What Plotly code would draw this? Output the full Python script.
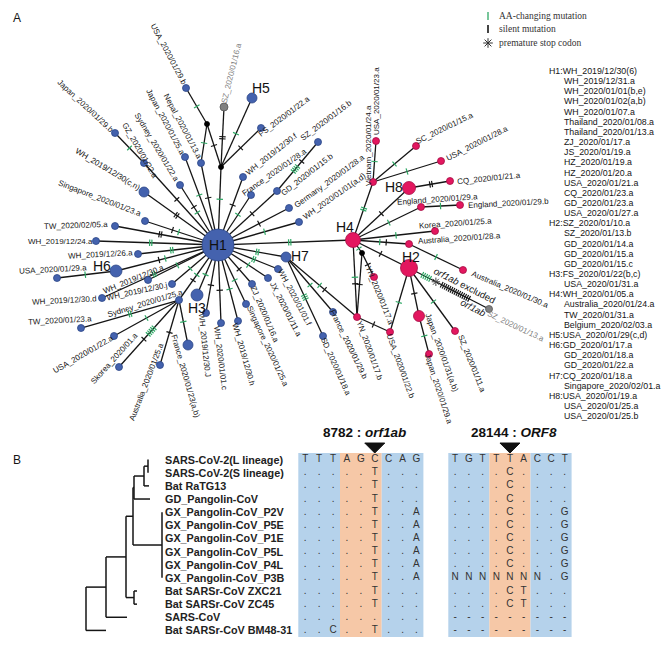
import math
import plotly.graph_objects as go

# ======================= DATA =======================
# ---- Panel A: haplotype key (right-hand list) ----
hap_keys = ["H1", "H2", "H3", "H4", "H5", "H6", "H7", "H8"]
h1_members = ["WH_2019/12/30(6)", "WH_2019/12/31.a", "WH_2020/01/01(b,e)", "WH_2020/01/02(a,b)",
              "WH_2020/01/07.a", "Thailand_2020/01/08.a", "Thailand_2020/01/13.a", "ZJ_2020/01/17.a",
              "JS_2020/01/19.a", "HZ_2020/01/19.a", "HZ_2020/01/20.a", "USA_2020/01/21.a",
              "CQ_2020/01/23.a", "GD_2020/01/23.a", "USA_2020/01/27.a"]
h2_members = ["SZ_2020/01/10.a", "SZ_2020/01/13.b", "GD_2020/01/14.a", "GD_2020/01/15.a", "GD_2020/01/15.c"]
h3_members = ["FS_2020/01/22(b,c)", "USA_2020/01/31.a"]
h4_members = ["WH_2020/01/05.a", "Australia_2020/01/24.a", "TW_2020/01/31.a", "Belgium_2020/02/03.a"]
h5_members = ["USA_2020/01/29(c,d)"]
h6_members = ["GD_2020/01/17.a", "GD_2020/01/18.a", "GD_2020/01/22.a"]
h7_members = ["CQ_2020/01/18.a", "Singapore_2020/02/01.a"]
h8_members = ["USA_2020/01/19.a", "USA_2020/01/25.a", "USA_2020/01/25.b"]
hap_members = [h1_members, h2_members, h3_members, h4_members,
               h5_members, h6_members, h7_members, h8_members]

mutation_legend = ["AA-changing mutation", "silent mutation", "premature stop codon"]

# network edges: (from, to, mutations)  g = AA-changing, s = silent, * = premature stop
network_edges = [
    ("H1", "mv1", "g"), ("mv1", "mv2", "s"), ("mv2", "USA_2020/01/29.b", "g"),
    ("mv2", "Nepal_2020/01/13.a", "g"), ("mv1", "SZ_2020/01/16.a", "ss"), ("mv1", "H5", "g"),
    ("mv1", "FS_2020/01/22.a", "s"),
    ("H1", "Nepal_2020/01/13.a", "s"), ("H1", "Japan_2020/01/25.a", "g"),
    ("H1", "Sydney_2020/01/22.a", "gs"), ("H1", "GZ_2020/01/22.a", "s"),
    ("GZ_2020/01/22.a", "Japan_2020/01/29.b", "g"), ("H1", "WH_2019/12/30(c,n)", "ss"),
    ("H1", "Singapore_2020/01/23.a", "gs"), ("H1", "TW_2020/02/05.a", "ss"),
    ("H1", "WH_2019/12/24.a", "gg"), ("H1", "WH_2019/12/26.a", "gg"), ("H1", "H6", "gs"),
    ("H6", "USA_2020/01/29.a", "g"), ("H1", "WH_2019/12/30.a", "g"), ("H1", "WH_2019/12/30.j", "g"),
    ("H1", "WH_2019/12/30.d", "gg"), ("H1", "Sydney_2020/01/25.a", "gs"),
    ("Sydney_2020/01/25.a", "TW_2020/01/23.a", "gg"), ("Sydney_2020/01/25.a", "USA_2020/01/22.a", "g"),
    ("Sydney_2020/01/25.a", "Skorea_2020/01.a", "gggggs"),
    ("Sydney_2020/01/25.a", "Australia_2020/01/25.a", "s"),
    ("Sydney_2020/01/25.a", "France_2020/01/23(a,b)", "g"),
    ("H1", "H3", "g"), ("H1", "WH_2019/12/30.J", "s"), ("H1", "WH_2020/01/01.c", "s"),
    ("H1", "WH_2019/12/30.h", "g"), ("H1", "Singapore_2020/01/25.a", "g"),
    ("H1", "ZJ_2020/01/16.a", "s"), ("H1", "JX_2020/01/11.a", "g"), ("H1", "WH_2020/01/01.f", "gg"),
    ("H1", "H7", "gg"), ("H1", "H4", "gg"), ("H1", "WH_2020/01/01(a,d)", "g"),
    ("H1", "Germany_2020/01/28.a", "s"), ("H1", "GD_2020/01/15.b", "s"),
    ("GD_2020/01/15.b", "SZ_2020/01/16.b", "ggggs"), ("H1", "France_2020/01/28.a", "g"),
    ("H1", "WH_2019/12/30.f", "s"),
    ("H7", "SD_2020/01/18.a", "ggg"), ("H7", "France_2020/01/29.b", "g"), ("H7", "YN_2020/01/17.b", "gs"),
    ("H4", "YN_2020/01/17.b", "gs"), ("H4", "mv3", "g"), ("mv3", "YN_2020/01/17.b", "s"),
    ("mv3", "YN_2020/01/17.a", "s"), ("YN_2020/01/17.b", "USA_2020/01/22.b", "s"),
    ("H2", "USA_2020/01/22.b", "g"), ("H4", "H2", "s"),
    ("H2", "Japan_2020/01/31(a,b)", "s"), ("Japan_2020/01/31(a,b)", "Japan_2020/01/29.a", "g"),
    ("H2", "SZ_2020/01/11.a", "g"), ("H2", "SZ_2020/01/13.a", "ggggg*" + "s" * 15),
    ("H4", "Australia_2020/01/28.a", "gs"), ("Australia_2020/01/28.a", "Australia_2020/01/30.a", "g"),
    ("H4", "Korea_2020/01/25.a", "g"), ("H4", "England_2020/01/29.a", "g"),
    ("England_2020/01/29.a", "England_2020/01/29.b", "g"), ("H4", "H8", "s"),
    ("H8", "CQ_2020/01/21.a", "ss"), ("H4", "Vietnam_2020/01/24.a", "gg"),
    ("Vietnam_2020/01/24.a", "USA_2020/01/23.a", "g"), ("Vietnam_2020/01/24.a", "SC_2020/01/15.a", "g"),
    ("Vietnam_2020/01/24.a", "USA_2020/01/28.a", "g"),
]

# ---- Panel B ----
taxa = ["SARS-CoV-2(L lineage)", "SARS-CoV-2(S lineage)", "Bat RaTG13", "GD_Pangolin-CoV",
        "GX_Pangolin-CoV_P2V", "GX_Pangolin-CoV_P5E", "GX_Pangolin-CoV_P1E", "GX_Pangolin-CoV_P5L",
        "GX_Pangolin-CoV_P4L", "GX_Pangolin-CoV_P3B", "Bat SARSr-CoV ZXC21", "Bat SARSr-CoV ZC45",
        "SARS-CoV", "Bat SARSr-CoV BM48-31"]
site_titles = ["<b>8782 : <i>orf1ab</i></b>", "<b>28144 : <i>ORF8</i></b>"]
aln_orf1ab = ["TTTAGCCAG", ".....T...", ".....T...", ".....T...", ".....T..A", ".....T..A",
              ".....T..A", ".....T..A", ".....T..A", ".....T..A", ".....T...", ".....T...",
              ".........", "..C..T..."]
aln_orf8 = ["TGTTTACCT", "....C....", "....C....", "....C....", "....C...G", "....C...G",
            "....C...G", "....C...G", "....C...G", "NNNNNNN.G", "....CT...", "....CT...",
            "---------", "---------"]
site_columns = [5, 4]   # marked (variable) column in each window
tree_clades = [  # internal node -> children
    ("LS", ["SARS-CoV-2(L lineage)", "SARS-CoV-2(S lineage)"]),
    ("LSR", ["LS", "Bat RaTG13"]),
    ("SC2", ["LSR", "GD_Pangolin-CoV"]),
    ("GX", taxa[4:10]),
    ("SGX", ["SC2", "GX"]),
    ("ZX", ["Bat SARSr-CoV ZXC21", "Bat SARSr-CoV ZC45"]),
    ("N1", ["SGX", "ZX"]),
    ("N2", ["N1", "SARS-CoV"]),
    ("ROOT", ["N2", "Bat SARSr-CoV BM48-31"]),
]

# ======================= LAYOUT / STYLE =======================
W, H = 669, 645
BLUE, BLUE_E = "#4462AE", "#2C4687"
RED, RED_E = "#E3175F", "#A50F45"
GREY, GREY_E = "#808080", "#555555"
GREEN = "#2EA865"
INK = "#151515"
SANS = "Liberation Sans, Arial, sans-serif"
SERIF = "Liberation Serif, Times New Roman, serif"

# network drawing layout (pixel space): x, y, diameter, kind
node_layout = {
    "H1": (218, 245, 32, "b"), "H2": (409, 268, 17, "r"), "H3": (197, 295, 12, "b"),
    "H4": (353, 240, 15, "r"), "H5": (252, 98, 10, "b"), "H6": (116, 271, 12, "b"),
    "H7": (286, 257, 10, "b"), "H8": (409, 188, 13, "r"),
    "mv1": (221, 167, 5, "k"), "mv2": (207, 124, 5, "k"), "mv3": (362, 253, 5, "k"),
    "SZ_2020/01/16.a": (224, 107, 8, "g"), "USA_2020/01/29.b": (186, 88, 7, "b"),
    "FS_2020/01/22.a": (261, 128, 7, "b"), "Nepal_2020/01/13.a": (201, 163, 7, "b"),
    "Japan_2020/01/25.a": (185, 157, 7, "b"), "Sydney_2020/01/22.a": (180, 185, 7, "b"),
    "GZ_2020/01/22.a": (144, 163, 7, "b"), "Japan_2020/01/29.b": (115, 133, 7, "b"),
    "WH_2019/12/30(c,n)": (144, 192, 10, "b"), "Singapore_2020/01/23.a": (145, 221, 7, "b"),
    "TW_2020/02/05.a": (115, 226, 7, "b"), "WH_2019/12/24.a": (96, 241, 7, "b"),
    "WH_2019/12/26.a": (138, 254, 7, "b"), "USA_2020/01/29.a": (57, 278, 7, "b"),
    "WH_2019/12/30.a": (148, 280, 7, "b"), "WH_2019/12/30.j": (172, 284, 7, "b"),
    "WH_2019/12/30.d": (102, 298, 7, "b"), "Sydney_2020/01/25.a": (179, 300, 7, "b"),
    "TW_2020/01/23.a": (81, 328, 7, "b"), "USA_2020/01/22.a": (114, 336, 7, "b"),
    "Skorea_2020/01.a": (119, 367, 7, "b"), "Australia_2020/01/25.a": (160, 365, 7, "b"),
    "France_2020/01/23(a,b)": (188, 345, 10, "b"), "WH_2019/12/30.J": (206, 313, 7, "b"),
    "WH_2020/01/01.c": (221, 323, 7, "b"), "WH_2019/12/30.h": (238, 321, 7, "b"),
    "Singapore_2020/01/25.a": (246, 304, 7, "b"), "ZJ_2020/01/16.a": (252, 284, 7, "b"),
    "JX_2020/01/11.a": (268, 278, 7, "b"), "WH_2020/01/01.f": (278, 269, 7, "b"),
    "WH_2019/12/30.f": (243, 177, 7, "b"), "France_2020/01/28.a": (251, 195, 7, "b"),
    "SZ_2020/01/16.b": (318, 142, 7, "b"), "GD_2020/01/15.b": (277, 191, 7, "b"),
    "Germany_2020/01/28.a": (289, 208, 7, "b"), "WH_2020/01/01(a,d)": (299, 222, 7, "b"),
    "SD_2020/01/18.a": (323, 336, 7, "b"), "France_2020/01/29.b": (333, 312, 7, "b"),
    "YN_2020/01/17.b": (357, 317, 7, "r"), "YN_2020/01/17.a": (374, 277, 7, "r"),
    "USA_2020/01/22.b": (390, 332, 7, "r"), "Japan_2020/01/31(a,b)": (419, 316, 11, "r"),
    "Japan_2020/01/29.a": (429, 354, 7, "r"), "SZ_2020/01/11.a": (455, 331, 7, "r"),
    "SZ_2020/01/13.a": (489, 309, 7, "g"), "Australia_2020/01/28.a": (409, 244, 7, "r"),
    "Australia_2020/01/30.a": (463, 270, 7, "r"), "Korea_2020/01/25.a": (435, 231, 7, "r"),
    "England_2020/01/29.a": (421, 207, 7, "r"), "England_2020/01/29.b": (460, 205, 7, "r"),
    "CQ_2020/01/21.a": (450, 181, 7, "r"), "Vietnam_2020/01/24.a": (373, 182, 7, "r"),
    "USA_2020/01/23.a": (376, 141, 7, "r"), "SC_2020/01/15.a": (416, 146, 7, "r"),
    "USA_2020/01/28.a": (441, 161, 7, "r"),
}
# label placement: centre x, centre y, angle (deg, clockwise)
label_layout = {
    "USA_2020/01/29.b": (169, 54, 62), "SZ_2020/01/16.a": (231, 73, -76),
    "Japan_2020/01/29.b": (86, 106, 43), "GZ_2020/01/22.a": (140, 150, 60),
    "Sydney_2020/01/22.a": (157, 147, 59), "Japan_2020/01/25.a": (166, 122, 62),
    "Nepal_2020/01/13.a": (183, 126, 62), "WH_2019/12/30(c,n)": (108, 169, 31),
    "Singapore_2020/01/23.a": (100, 198, 21), "TW_2020/02/05.a": (76, 225, -2),
    "WH_2019/12/24.a": (60, 241, 0), "WH_2019/12/26.a": (100, 254, -3),
    "USA_2020/01/29.a": (53, 269, -3), "WH_2019/12/30.a": (133, 279, -22),
    "WH_2019/12/30.j": (137, 291, -12), "WH_2019/12/30.d": (64, 300, -3),
    "Sydney_2020/01/25.a": (145, 303, -17), "TW_2020/01/23.a": (60, 320, -3),
    "USA_2020/01/22.a": (83, 354, -30), "Skorea_2020/01.a": (114, 358, -48),
    "Australia_2020/01/25.a": (146, 382, -69), "France_2020/01/23(a,b)": (186, 376, 74),
    "WH_2019/12/30.J": (205, 345, 84), "WH_2020/01/01.c": (221, 358, 83),
    "WH_2019/12/30.h": (244, 354, 74), "Singapore_2020/01/25.a": (268, 346, 65),
    "ZJ_2020/01/16.a": (265, 314, 67), "JX_2020/01/11.a": (286, 309, 63),
    "WH_2020/01/01.f": (295, 297, 62), "WH_2019/12/30.f": (271, 154, -38),
    "France_2020/01/28.a": (274, 172, -35), "SZ_2020/01/16.b": (326, 120, -37),
    "GD_2020/01/15.b": (307, 174, -38), "Germany_2020/01/28.a": (329, 181, -36),
    "WH_2020/01/01(a,d)": (334, 196, -35), "FS_2020/01/22.a": (284, 116, -37),
    "SD_2020/01/18.a": (336, 366, 66), "France_2020/01/29.b": (349, 344, 64),
    "YN_2020/01/17.b": (370, 350, 70), "YN_2020/01/17.a": (380, 295, 68),
    "USA_2020/01/22.b": (401, 366, 70), "Japan_2020/01/31(a,b)": (442, 352, 70),
    "Japan_2020/01/29.a": (439, 389, 72), "SZ_2020/01/11.a": (472, 363, 68),
    "SZ_2020/01/13.a": (516, 326, 25), "Australia_2020/01/28.a": (459, 238, -4),
    "Australia_2020/01/30.a": (510, 289, 23), "Korea_2020/01/25.a": (455, 223, -4),
    "England_2020/01/29.a": (437, 199, -4), "England_2020/01/29.b": (508, 203, -3),
    "CQ_2020/01/21.a": (489, 178, -6), "Vietnam_2020/01/24.a": (368, 146, -90),
    "USA_2020/01/23.a": (376, 101, -90), "SC_2020/01/15.a": (444, 128, -26),
    "USA_2020/01/28.a": (477, 143, -27),
}
hap_label_pos = {"H2": (411, 257), "H3": (197, 308), "H4": (345, 227), "H5": (261, 88),
                 "H6": (102, 266), "H7": (300, 256), "H8": (394, 187)}

fig = go.Figure()

# ---------- network edges ----------
ex, ey = [], []
for a, b, _ in network_edges:
    xa, ya = node_layout[a][:2]
    xb, yb = node_layout[b][:2]
    ex += [xa, xb, None]
    ey += [ya, yb, None]
fig.add_trace(go.Scatter(x=ex, y=ey, mode="lines", line=dict(color=INK, width=1.3),
                         hoverinfo="skip", showlegend=False))

# ---------- mutation marks ----------
gx, gy, sx, sy, stx, sty = [], [], [], [], [], []
for a, b, muts in network_edges:
    xa, ya, da, _ = node_layout[a]
    xb, yb, db, _ = node_layout[b]
    L = math.hypot(xb - xa, yb - ya)
    ux, uy = (xb - xa) / L, (yb - ya) / L
    nx, ny = -uy, ux
    s0, s1 = da / 2, L - db / 2
    t = 0.42 if "*" in muts else 0.5
    mid = s0 + (s1 - s0) * t
    offs, pos, prev = [], 0.0, None
    for ch in muts:
        if prev is not None:
            pos += 2.2 if ch == prev else 6.5
        offs.append((pos, ch))
        prev = ch
    for p, ch in offs:
        s = mid + p - pos / 2
        cx, cy = xa + ux * s, ya + uy * s
        if ch == "*":
            stx.append(cx); sty.append(cy)
            continue
        seg_x = [cx - nx * 3.2, cx + nx * 3.2, None]
        seg_y = [cy - ny * 3.2, cy + ny * 3.2, None]
        if ch == "g":
            gx += seg_x; gy += seg_y
        else:
            sx += seg_x; sy += seg_y
fig.add_trace(go.Scatter(x=gx, y=gy, mode="lines", line=dict(color=GREEN, width=1.2),
                         hoverinfo="skip", showlegend=False))
fig.add_trace(go.Scatter(x=sx, y=sy, mode="lines", line=dict(color=INK, width=1.2),
                         hoverinfo="skip", showlegend=False))
fig.add_trace(go.Scatter(x=stx, y=sty, mode="markers",
                         marker=dict(symbol="asterisk-open", size=7, color="#444",
                                     line=dict(color="#444", width=1)),
                         hoverinfo="skip", showlegend=False))

# ---------- nodes ----------
fill = {"b": BLUE, "r": RED, "g": GREY, "k": "#000000"}
edge = {"b": BLUE_E, "r": RED_E, "g": GREY_E, "k": "#000000"}
names = list(node_layout)
fig.add_trace(go.Scatter(
    x=[node_layout[n][0] for n in names], y=[node_layout[n][1] for n in names], mode="markers",
    marker=dict(size=[node_layout[n][2] for n in names], color=[fill[node_layout[n][3]] for n in names],
                line=dict(color=[edge[node_layout[n][3]] for n in names], width=0.8), opacity=1),
    hovertext=names, hoverinfo="text", showlegend=False))

ann = []
for n, (cx, cy, ang) in label_layout.items():
    col = GREY if node_layout[n][3] == "g" else INK
    ann.append(dict(x=cx, y=cy, text=n, textangle=ang, showarrow=False, xanchor="center",
                    yanchor="middle", font=dict(family=SANS, size=8, color=col)))
ann.append(dict(x=node_layout["H1"][0], y=node_layout["H1"][1], text="H1", showarrow=False,
                font=dict(family=SANS, size=14, color="#111")))
for k, (hx, hy) in hap_label_pos.items():
    ann.append(dict(x=hx, y=hy, text=k, showarrow=False, font=dict(family=SANS, size=14, color="#111")))
ann.append(dict(x=465, y=285, text="<i>orf1ab</i> excluded", textangle=27, showarrow=False,
                font=dict(family=SANS, size=9.5, color=INK)))
ann.append(dict(x=473, y=307, text="<i>orf1ab</i>", textangle=28, showarrow=False,
                font=dict(family=SANS, size=9.5, color=INK)))

# ---------- mutation legend ----------
lx = 488
leg_y = [16, 29, 43]
fig.add_trace(go.Scatter(x=[lx, lx], y=[leg_y[0] - 4, leg_y[0] + 4],
                         mode="lines", line=dict(color=GREEN, width=1.3), hoverinfo="skip", showlegend=False))
fig.add_trace(go.Scatter(x=[lx, lx], y=[leg_y[1] - 4, leg_y[1] + 4], mode="lines",
                         line=dict(color=INK, width=1.6), hoverinfo="skip", showlegend=False))
fig.add_trace(go.Scatter(x=[lx], y=[leg_y[2]], mode="markers",
                         marker=dict(symbol="asterisk-open", size=8, color="#333",
                                     line=dict(color="#333", width=1)),
                         hoverinfo="skip", showlegend=False))
for txt, yy in zip(mutation_legend, leg_y):
    ann.append(dict(x=497, y=yy, text=txt, showarrow=False, xanchor="left", yanchor="middle",
                    font=dict(family=SERIF, size=9.5, color="#333")))

# ---------- haplotype key ----------
row = 0
for key, members in zip(hap_keys, hap_members):
    for i, m in enumerate(members):
        yy = 71 + row * 10.15
        if i == 0:
            ann.append(dict(x=547, y=yy, text=f"{key}:{m}", showarrow=False, xanchor="left",
                            yanchor="middle", font=dict(family=SANS, size=8.8, color=INK)))
        else:
            ann.append(dict(x=562, y=yy, text=m, showarrow=False, xanchor="left",
                            yanchor="middle", font=dict(family=SANS, size=8.8, color=INK)))
        row += 1

# panel letters
ann.append(dict(x=17, y=18, text="A", showarrow=False, font=dict(family=SANS, size=12, color=INK)))
ann.append(dict(x=17, y=460, text="B", showarrow=False, font=dict(family=SANS, size=12, color=INK)))

# ======================= PANEL B =======================
row_y0, row_h = 459.6, 13.14
ty = {t: row_y0 + i * row_h for i, t in enumerate(taxa)}
tip_x = {taxa[0]: 148, taxa[1]: 148, taxa[2]: 149, taxa[3]: 150}
for t in taxa[4:10]:
    tip_x[t] = 162
tip_x.update({taxa[10]: 137, taxa[11]: 137, taxa[12]: 127, taxa[13]: 106})
node_x = {"LS": 148, "LSR": 144, "SC2": 134, "GX": 162, "SGX": 133, "ZX": 134,
          "N1": 126, "N2": 106, "ROOT": 86}
xpos = dict(tip_x)
tx, tyy = [], []
for nm, kids in tree_clades:
    xpos[nm] = node_x[nm]
    ys = [ty[k] for k in kids]
    ty[nm] = sum(ys) / len(ys)
    tx += [node_x[nm], node_x[nm], None]
    tyy += [min(ys), max(ys), None]
    for k in kids:
        tx += [node_x[nm], xpos[k], None]
        tyy += [ty[k], ty[k], None]
fig.add_trace(go.Scatter(x=tx, y=tyy, mode="lines", line=dict(color=INK, width=1.5),
                         hoverinfo="skip", showlegend=False))
for t in taxa:
    ann.append(dict(x=163, y=ty[t], text=f"<b>{t}</b>", showarrow=False, xanchor="left",
                    yanchor="middle", font=dict(family=SANS, size=10.8, color="#222")))

# alignment windows
blocks = [(298.3, 13.9, aln_orf1ab), (448.3, 13.7, aln_orf8)]
top, bot = row_y0 - row_h / 2, row_y0 + (len(taxa) - 0.5) * row_h
shapes = []
BG_BLUE, BG_ORANGE = "#B5D2EB", "#F6C8A7"
for bi, (x0, cw, seqs) in enumerate(blocks):
    for c0, c1, col in [(0, 3, BG_BLUE), (3, 6, BG_ORANGE), (6, 9, BG_BLUE)]:
        shapes.append(dict(type="rect", xref="x", yref="y", x0=x0 + c0 * cw, x1=x0 + c1 * cw,
                           y0=top, y1=bot, fillcolor=col, line=dict(width=0), layer="below"))
    lx_, ly_, lt_ = [], [], []
    for ri, s in enumerate(seqs):
        for ci, ch in enumerate(s):
            lx_.append(x0 + (ci + 0.5) * cw)
            ly_.append(row_y0 + ri * row_h)
            lt_.append(ch)
    fig.add_trace(go.Scatter(x=lx_, y=ly_, mode="text", text=lt_,
                             textfont=dict(family=SANS, size=10, color="#333"),
                             hoverinfo="skip", showlegend=False))
    cxm = x0 + (site_columns[bi] + 0.5) * cw
    fig.add_trace(go.Scatter(x=[cxm - 10, cxm + 10, cxm, cxm - 10], y=[top - 10, top - 10, top, top - 10],
                             mode="lines", fill="toself", fillcolor="#111", line=dict(color="#111", width=1),
                             hoverinfo="skip", showlegend=False))
    ann.append(dict(x=x0 + 4.5 * cw + 4, y=432, text=site_titles[bi], showarrow=False,
                    font=dict(family=SANS, size=13.5, color="#111")))

fig.update_layout(
    width=W, height=H, margin=dict(l=0, r=0, t=0, b=0),
    paper_bgcolor="white", plot_bgcolor="white",
    xaxis=dict(range=[0, W], visible=False, fixedrange=True),
    yaxis=dict(range=[H, 0], visible=False, fixedrange=True),
    annotations=ann, shapes=shapes, showlegend=False,
)
fig.write_html("out.html", config={"displayModeBar": False},
               post_script="document.body.style.margin='0';document.body.style.overflow='hidden';")
